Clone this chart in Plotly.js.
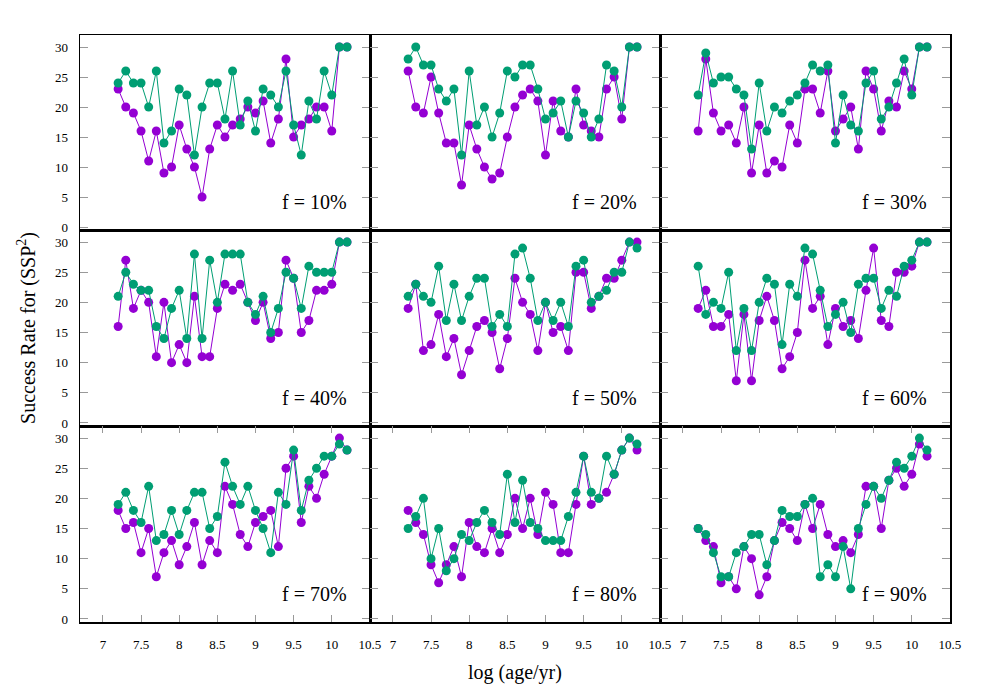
<!DOCTYPE html>
<html>
<head>
<meta charset="utf-8">
<script src="https://cdn.plot.ly/plotly-3.0.1.min.js"></script>
<style>
  body { margin: 0; background: #fff; }
  #plot { width: 1000px; height: 700px; }
</style>
</head>
<body>
<div id="plot"></div>
<script>
// log(age/yr) sampling, shared by every panel
const logAge = [7.2, 7.3, 7.4, 7.5, 7.6, 7.7, 7.8, 7.9, 8.0, 8.1, 8.2, 8.3, 8.4, 8.5, 8.6, 8.7,
                8.8, 8.9, 9.0, 9.1, 9.2, 9.3, 9.4, 9.5, 9.6, 9.7, 9.8, 9.9, 10.0, 10.1, 10.2];

const fLabels = ['f = 10%', 'f = 20%', 'f = 30%', 'f = 40%', 'f = 50%', 'f = 60%', 'f = 70%', 'f = 80%', 'f = 90%'];

// purple series
const purple10 = [23,20,19,16,11,16,9,10,17,13,10,5,13,17,15,17,18,20,19,21,14,18,28,15,17,18,20,20,16,30,30];
const purple20 = [26,20,19,25,19,14,14,7,17,13,10,8,9,15,20,22,23,21,12,21,16,15,23,17,16,15,23,25,18,30,30];
const purple30 = [16,28,19,16,17,14,20,9,17,9,11,10,17,14,23,23,19,26,16,18,20,13,26,23,16,21,20,26,23,30,30];
const purple40 = [16,27,19,22,20,11,20,10,13,10,21,11,11,19,23,22,23,20,17,20,14,15,27,24,15,17,22,22,23,30,30];
const purple50 = [19,23,12,13,18,11,14,8,12,16,17,15,9,14,24,20,18,12,20,15,16,12,25,25,19,21,24,24,27,30,30];
const purple60 = [19,22,16,16,18,7,18,7,17,21,17,9,11,15,27,19,21,13,19,16,17,14,22,29,17,16,25,25,26,30,30];
const purple70 = [18,15,16,11,15,7,11,13,9,12,16,9,13,11,22,19,14,12,16,17,18,12,25,27,16,22,20,24,27,30,28];
const purple80 = [18,16,14,9,6,9,12,7,16,12,11,15,11,14,20,15,20,14,21,19,11,11,19,27,19,20,21,24,28,30,28];
const purple90 = [15,13,12,6,7,5,12,10,4,7,13,16,15,13,19,15,19,14,12,13,11,14,22,22,15,23,25,22,24,29,27];

// teal series
const teal10 = [24,26,24,24,20,26,14,16,23,22,12,20,24,24,18,26,17,21,16,23,22,20,26,17,12,21,18,26,22,30,30];
const teal20 = [28,30,27,27,23,21,23,12,26,17,20,15,19,26,25,27,27,23,18,19,21,15,21,19,15,18,27,26,20,30,30];
const teal30 = [22,29,24,25,25,23,22,13,24,16,20,19,21,22,24,27,26,27,14,22,17,16,24,26,18,20,24,28,22,30,30];
const teal40 = [21,25,23,22,22,16,14,19,22,14,28,14,27,20,28,28,28,20,18,21,15,19,25,24,19,26,25,25,25,30,30];
const teal50 = [21,23,21,20,26,17,23,17,21,24,24,16,18,16,28,29,24,17,20,17,20,16,26,27,20,21,22,25,25,30,29];
const teal60 = [26,18,20,19,25,12,19,12,20,24,23,13,23,21,29,28,22,16,18,20,15,23,24,24,19,22,21,26,27,30,30];
const teal70 = [19,21,18,16,22,13,14,18,14,18,21,21,15,17,26,22,19,22,18,15,11,21,19,28,18,23,25,27,27,29,28];
const teal80 = [15,17,20,10,15,8,10,14,13,16,18,16,14,24,16,23,16,15,13,13,13,17,21,27,21,20,27,24,28,30,29];
const teal90 = [15,14,11,7,7,11,12,14,14,9,13,18,17,17,19,20,7,9,7,12,5,15,19,22,20,23,26,25,27,30,28];

const purpleSets = [purple10, purple20, purple30, purple40, purple50, purple60, purple70, purple80, purple90];
const tealSets = [teal10, teal20, teal30, teal40, teal50, teal60, teal70, teal80, teal90];

const PURPLE = '#9400d3';
const TEAL = '#009e73';
const FONT = 'Liberation Serif';

// panel edges in pixels (1000x700 page)
const colEdges = [[80, 370], [370, 660], [660, 950]];
const rowEdges = [[35, 230], [230, 426], [426, 622]];

let data = [];
let layout = {
    width: 1000,
    height: 700,
    margin: {l: 0, r: 0, t: 0, b: 0},
    paper_bgcolor: '#fff',
    plot_bgcolor: '#fff',
    showlegend: false,
    font: {family: FONT, color: '#000'},
    annotations: []
};

for (let i = 0; i < 9; i++) {
    let r = Math.floor(i / 3);
    let c = i % 3;
    let s = i === 0 ? '' : String(i + 1);

    data.push({
        x: logAge, y: purpleSets[i],
        xaxis: 'x' + s, yaxis: 'y' + s,
        mode: 'lines+markers',
        line: {color: PURPLE, width: 1},
        marker: {color: PURPLE, size: 9},
        hoverinfo: 'x+y'
    });
    data.push({
        x: logAge, y: tealSets[i],
        xaxis: 'x' + s, yaxis: 'y' + s,
        mode: 'lines+markers',
        line: {color: TEAL, width: 1},
        marker: {color: TEAL, size: 9},
        hoverinfo: 'x+y'
    });

    let bottom = r === 2;
    layout['xaxis' + s] = {
        domain: [colEdges[c][0] / 1000, colEdges[c][1] / 1000],
        anchor: 'y' + s,
        range: [6.7, 10.501],
        tick0: 7, dtick: 0.5,
        ticks: bottom ? 'inside' : '',
        ticklen: 7, tickcolor: '#999', tickwidth: 1,
        showticklabels: bottom,
        ticklabelstandoff: 10,
        tickfont: {family: FONT, size: 13, color: '#000'},
        showline: true, linecolor: '#000', linewidth: 1.5,
        mirror: bottom ? 'ticks' : true,
        showgrid: false, zeroline: false
    };
    layout['yaxis' + s] = {
        domain: [1 - rowEdges[r][1] / 700, 1 - rowEdges[r][0] / 700],
        anchor: 'x' + s,
        range: [-0.5, 32],
        tick0: 0, dtick: 5,
        ticks: 'inside',
        ticklen: 8, tickcolor: '#999', tickwidth: 1,
        showticklabels: c === 0,
        ticklabelstandoff: 8,
        tickfont: {family: FONT, size: 13, color: '#000'},
        showline: true, linecolor: '#000', linewidth: 1.5,
        mirror: 'ticks',
        showgrid: false, zeroline: false
    };

    layout.annotations.push({
        text: fLabels[i],
        xref: 'paper', yref: 'paper',
        x: (colEdges[c][1] - 21) / 1000,
        y: 1 - (rowEdges[r][1] - 28) / 700,
        xanchor: 'right', yanchor: 'middle',
        showarrow: false,
        font: {family: FONT, size: 20, color: '#000'}
    });
}

// axis titles sit on the middle column / middle row
layout.xaxis8.title = {text: 'log (age/yr)', font: {family: FONT, size: 20, color: '#000'}, standoff: 14};
layout.yaxis4.title = {text: 'Success Rate for (SSP<sup>2</sup>)', font: {family: FONT, size: 20, color: '#000'}, standoff: 14};

Plotly.newPlot('plot', data, layout, {staticPlot: true});
</script>
</body>
</html>
